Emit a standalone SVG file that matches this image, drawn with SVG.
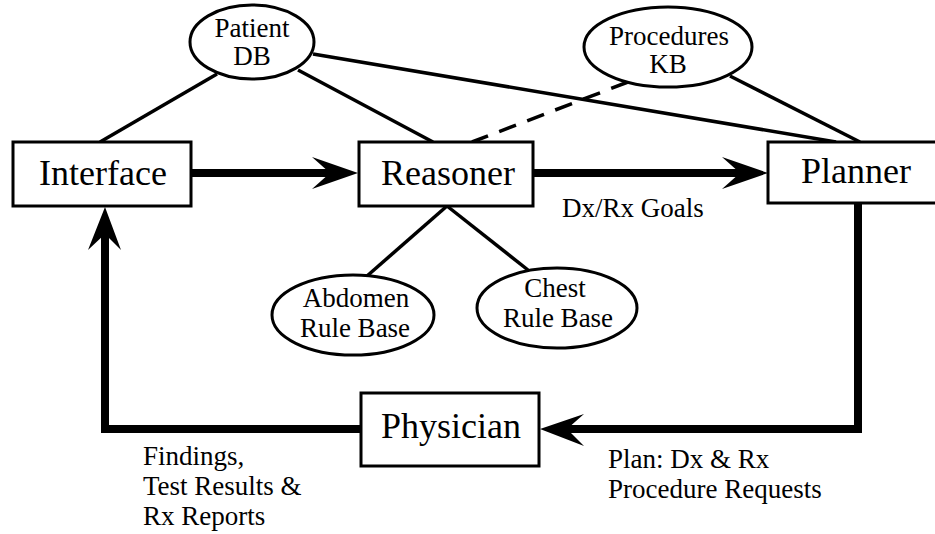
<svg xmlns="http://www.w3.org/2000/svg" width="935" height="534" viewBox="0 0 935 534">
<style>
.box{fill:#fff;stroke:#000;stroke-width:3}
.ell{fill:#fff;stroke:#000;stroke-width:3}
.thin{stroke:#000;stroke-width:3.5;fill:none}
.dash{stroke:#000;stroke-width:3.5;fill:none;stroke-dasharray:18 12}
.thick{stroke:#000;stroke-width:8;fill:none}
.head{fill:#000;stroke:none}
.big{font-size:36px;text-anchor:middle}
.sm{font-size:27px}
.mid{text-anchor:middle}
</style>
<rect width="935" height="534" fill="#fff"/>
<g id="connectors">
  <line class="thin" x1="217" y1="74" x2="100" y2="142"/>
  <line class="thin" x1="298" y1="70" x2="433" y2="142"/>
  <line class="thin" x1="313" y1="54" x2="836" y2="142"/>
  <line class="thin" x1="730" y1="76" x2="860" y2="142"/>
  <line class="dash" x1="628" y1="82" x2="472" y2="142"/>
  <line class="thin" x1="447" y1="206" x2="367" y2="276"/>
  <line class="thin" x1="447" y1="206" x2="528" y2="270"/>
  <line class="thick" x1="187" y1="173" x2="335" y2="173"/>
  <path class="head" d="M358,173 L312,157 L330,173 L312,189 Z"/>
  <line class="thick" x1="533" y1="173" x2="745" y2="173"/>
  <path class="head" d="M768,173 L722,157 L740,173 L722,189 Z"/>
  <polyline class="thick" points="858,202 858,429 563,429"/>
  <path class="head" d="M540,429 L584,414 L567,429 L584,446 Z"/>
  <polyline class="thick" points="361,429 105,429 105,230"/>
  <path class="head" d="M105,207 L88,250 L105,234 L121,250 Z"/>
</g>
<g font-family="Liberation Serif, Times New Roman, serif" fill="#000">
<g id="patientdb">
  <ellipse class="ell" cx="252" cy="42" rx="62" ry="37"/>
  <text class="sm mid" x="252" y="37">Patient</text>
  <text class="sm mid" x="252" y="65">DB</text>
</g>
<g id="procedureskb">
  <ellipse class="ell" cx="668" cy="47" rx="84" ry="40"/>
  <text class="sm mid" x="669" y="45">Procedures</text>
  <text class="sm mid" x="668" y="73">KB</text>
</g>
<g id="interface">
  <rect class="box" x="13" y="142" width="178" height="64"/>
  <text class="big" x="103" y="185">Interface</text>
</g>
<g id="reasoner">
  <rect class="box" x="359" y="142" width="174" height="64"/>
  <text class="big" x="448" y="185">Reasoner</text>
</g>
<g id="planner">
  <rect class="box" x="768" y="142" width="170" height="61"/>
  <text class="big" x="856" y="183">Planner</text>
</g>
<g id="abdomen">
  <ellipse class="ell" cx="353" cy="315" rx="81" ry="40"/>
  <text class="sm mid" x="356" y="307">Abdomen</text>
  <text class="sm mid" x="355" y="337">Rule Base</text>
</g>
<g id="chest">
  <ellipse class="ell" cx="557" cy="308" rx="80" ry="40"/>
  <text class="sm mid" x="555" y="297">Chest</text>
  <text class="sm mid" x="558" y="327">Rule Base</text>
</g>
<g id="physician">
  <rect class="box" x="361" y="393" width="178" height="73"/>
  <text class="big" x="451" y="438">Physician</text>
</g>
<g id="labels">
  <text class="sm" x="562" y="217">Dx/Rx Goals</text>
  <text class="sm" x="143" y="465">Findings,</text>
  <text class="sm" x="143" y="495">Test Results &amp;</text>
  <text class="sm" x="143" y="525">Rx Reports</text>
  <text class="sm" x="608" y="468">Plan: Dx &amp; Rx</text>
  <text class="sm" x="608" y="498">Procedure Requests</text>
</g>
</g>
</svg>
